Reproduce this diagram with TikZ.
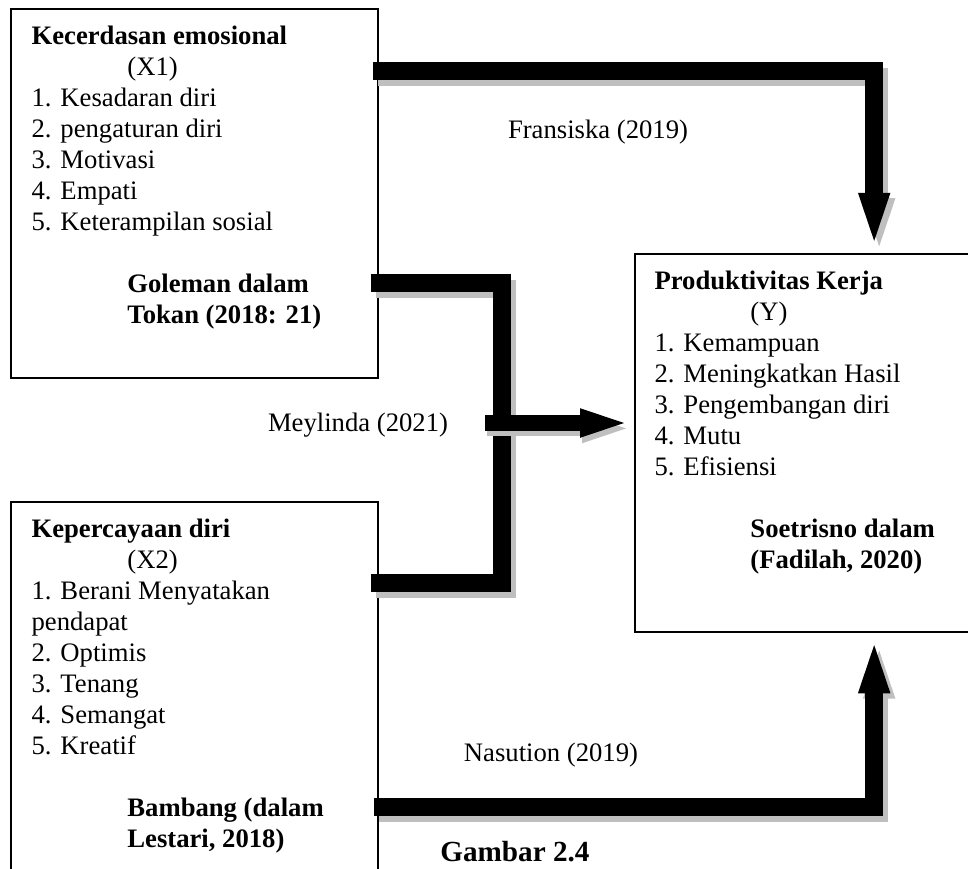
\documentclass[tikz,border=0pt]{standalone}
\usepackage{fontspec}
\setmainfont{Liberation Serif}
\usetikzlibrary{arrows.meta, positioning, fit, calc}

\begin{document}
\begin{tikzpicture}[x=0.48pt, y=-0.48pt,
    box/.style={draw, line width=0.8pt, inner sep=0pt},
    txt/.style={align=left, inner sep=0pt, font=\fontsize{12.8}{14.9}\selectfont},
    cite/.style={inner sep=0pt, font=\fontsize{12.8}{14.9}\selectfont},
    flow/.style={line width=8.6pt, line join=miter,
        preaction={draw=gray!50, line width=8.6pt, line join=miter, transform canvas={shift={(2.4pt,-2.6pt)}}}},
    thinflow/.style={line width=7.4pt,
        preaction={draw=gray!50, line width=7.4pt, transform canvas={shift={(1pt,-2.6pt)}}}},
    headed/.style={-{Triangle[length=29pt, width=12.5pt]}},
    smallhead/.style={-{Triangle[length=26pt, width=11.5pt]}}
]
\useasboundingbox (0,0) rectangle (968,868);
\clip (0,0) rectangle (968,868);

% Boxes
\node[box, fit={(11,9) (378,378)}] (x1) {};
\node[box, fit={(11,502) (378,880)}] (x2) {};
\node[box, fit={(635,254) (985,632)}] (y) {};

% Box texts
\node[txt, anchor=north west] (x1t) at ($(x1.north west)+(21,17)$) {\textbf{Kecerdasan emosional}\\\hspace*{46pt}(X1)\\1. Kesadaran diri\\2. pengaturan diri\\3. Motivasi\\4. Empati\\5. Keterampilan sosial\\[14.9pt]\hspace*{46pt}\textbf{Goleman dalam}\\\hspace*{46pt}\textbf{Tokan (2018: 21)}};
\node[txt, anchor=north west] (x2t) at ($(x2.north west)+(21,17)$) {\textbf{Kepercayaan diri}\\\hspace*{46pt}(X2)\\1. Berani Menyatakan\\pendapat\\2. Optimis\\3. Tenang\\4. Semangat\\5. Kreatif\\[14.9pt]\hspace*{46pt}\textbf{Bambang (dalam}\\\hspace*{46pt}\textbf{Lestari, 2018)}};
\node[txt, anchor=north west] (yt) at ($(y.north west)+(20,17)$) {\textbf{Produktivitas Kerja}\\\hspace*{46pt}(Y)\\1. Kemampuan\\2. Meningkatkan Hasil\\3. Pengembangan diri\\4. Mutu\\5. Efisiensi\\[14.9pt]\hspace*{46pt}\textbf{Soetrisno dalam}\\\hspace*{46pt}\textbf{(Fadilah, 2020)}};

% Connections
\coordinate (jn) at (502,423);
\draw[flow, headed] ($(x1.north east)+(-6,63)$) -| ($(y.north west)+(240,0)$);
\draw[flow] ($(x1.north east)+(-8,275)$) -| (jn) |- ($(x2.north east)+(-8,82)$);
\draw[thinflow, smallhead] ($(jn)+(-17,0)$) -- (y.west |- jn);
\draw[flow, headed] ($(x2.north east)+(-5,306)$) -| ($(y.south west)+(240,0)$);

% Labels
\node[cite] (fr) at (598,132) {Fransiska (2019)};
\node[cite] (me) at (358,425) {Meylinda (2021)};
\node[cite] (na) at (551,755) {Nasution (2019)};
\node[inner sep=0pt, anchor=base west, font=\bfseries\fontsize{14}{17}\selectfont] (gb) at (440,861) {Gambar 2.4};

\end{tikzpicture}
\end{document}
